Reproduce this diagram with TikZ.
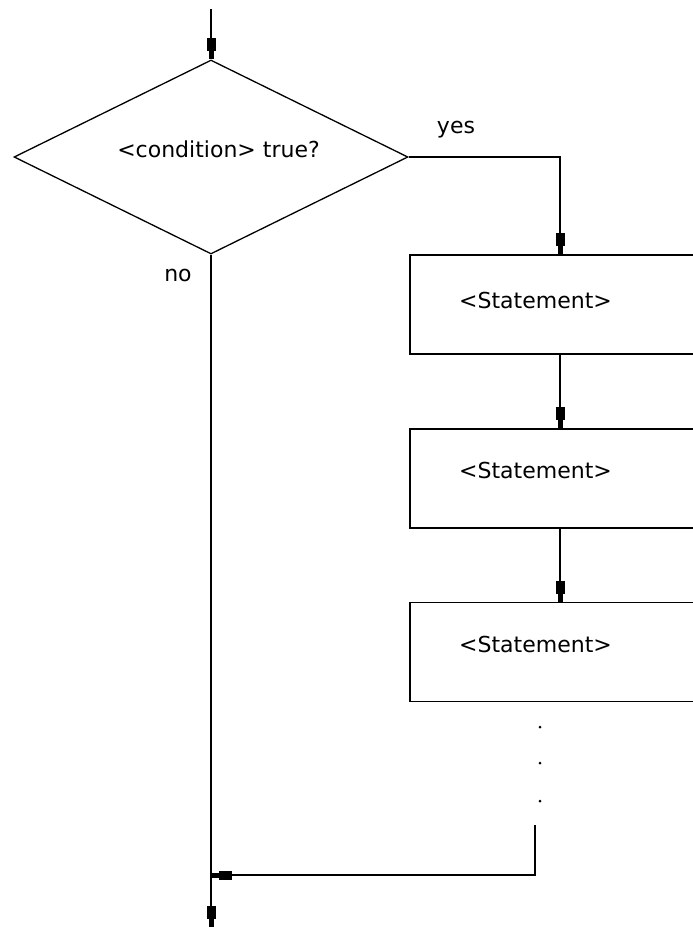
\documentclass[tikz,border=0pt]{standalone}
\usepackage{fontspec}
\setmainfont{DejaVu Sans}
\usetikzlibrary{shapes.geometric,decorations.markings}
\tikzset{
  flow/.style={line width=1.8pt, draw=black},
  sqarrow/.style={postaction={decorate}, decoration={markings,
     mark=at position 1 with {\fill (-21pt,-4.5pt) rectangle (-8pt,4.5pt);
                              \fill (-8.5pt,-2.5pt) rectangle (0pt,2.5pt);}}},
  cond/.style={draw, line width=1.3pt, shape=diamond, minimum width=394pt,
     minimum height=194pt, inner sep=0pt},
  stbox/.style={draw, line width=1.8pt, rectangle, minimum width=310pt,
     minimum height=99pt, inner sep=0pt},
  txt/.style={font=\fontsize{22}{24}\selectfont, inner sep=0pt, anchor=base},
  dotty/.style={fill=black, circle, inner sep=0pt, minimum size=3pt}
}
\begin{document}
\begin{tikzpicture}[x=1pt, y=-1pt]
  \useasboundingbox (0,0) rectangle (693,927);
  \clip (0,0) rectangle (693,927);
  % shapes
  \node[cond] (d) at (211,157) {};
  \node[txt] (ctext) at (218.5,157) {<condition> true?};
  \node[txt] (yes) at (456,133) {yes};
  \node[txt] (no) at (178,281) {no};
  \node[stbox] (b1) at (565,304.5) {};
  \node[stbox] (b2) at (565,478.5) {};
  \node[stbox] (b3) at (565,652) {};
  \node[txt, anchor=base west] (t1) at (459,308) {<Statement>};
  \node[txt, anchor=base west] (t2) at (459,478) {<Statement>};
  \node[txt, anchor=base west] (t3) at (459,652) {<Statement>};
  \node[dotty] (p1) at (540,727) {};
  \node[dotty] (p2) at (540,763) {};
  \node[dotty] (p3) at (540,801) {};
  % coordinates
  \coordinate (entry) at (211,9);
  \coordinate (col) at (560,0);
  \coordinate (tail) at (535,825);
  \coordinate (bend) at (535,875);
  \coordinate (join) at (211,875);
  \coordinate (exit) at (211,927);
  % connectors
  \draw[flow, sqarrow] (entry) -- (d.north);
  \draw[flow, sqarrow] (d.east) -| (b1.north -| col);
  \draw[flow, sqarrow] (b1.south -| col) -- (b2.north -| col);
  \draw[flow, sqarrow] (b2.south -| col) -- (b3.north -| col);
  \draw[flow, sqarrow] (tail) -- (bend) -- (join);
  \draw[flow, sqarrow] (d.south) -- (exit);
\end{tikzpicture}
\end{document}
